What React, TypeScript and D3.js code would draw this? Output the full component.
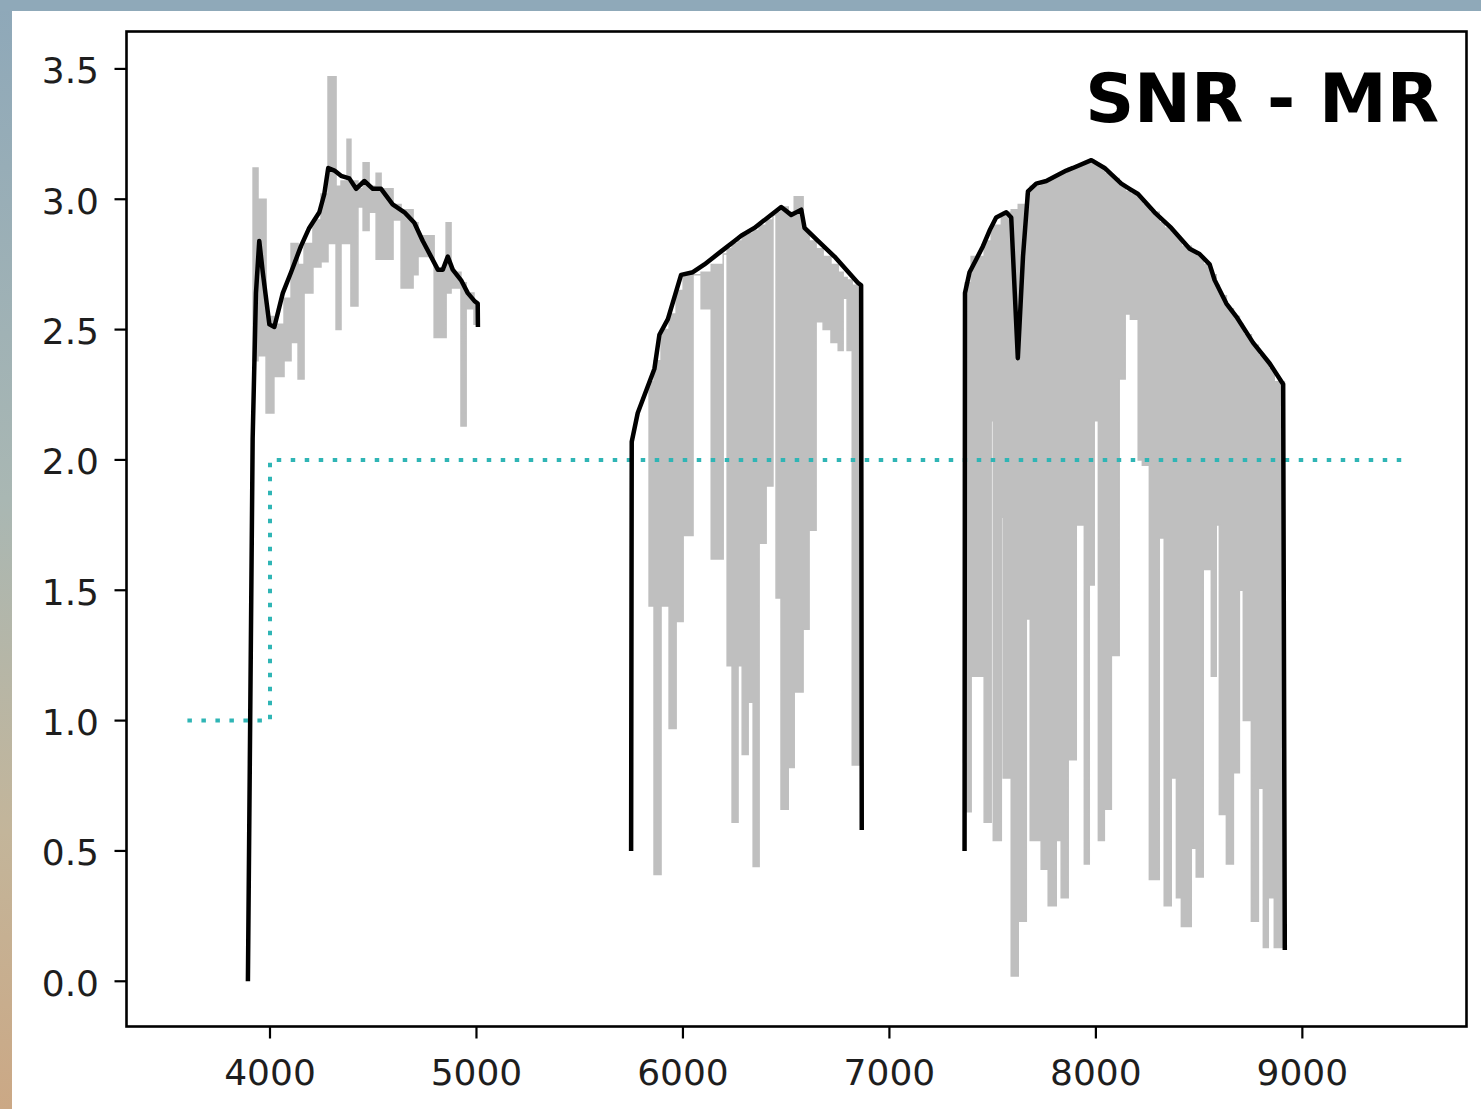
import React from "react";
import * as d3 from "d3";

// ---------- tick labels ----------
const xTickValues = [4000, 5000, 6000, 7000, 8000, 9000];
const yTickValues = [0, 0.5, 1.0, 1.5, 2.0, 2.5, 3.0, 3.5];
const titleText = "SNR - MR";

// ---------- requirement (cyan dotted step) ----------
const reqW = [3600, 4000, 4000, 9500];
const reqV = [1.0, 1.0, 2.0, 2.0];

// ---------- black (smoothed) SNR, three arms ----------
const blackBlueW = [3893, 3916, 3932, 3948, 3965, 3997, 4021, 4062, 4102, 4150, 4190, 4239, 4263, 4282, 4312, 4344, 4384, 4417, 4457, 4498, 4538, 4594, 4651, 4699, 4740, 4780, 4813, 4837, 4861, 4885, 4925, 4958, 4990, 5006, 5007];
const blackBlueV = [0.0, 2.08, 2.64, 2.84, 2.72, 2.52, 2.51, 2.64, 2.72, 2.82, 2.89, 2.95, 3.02, 3.12, 3.11, 3.09, 3.08, 3.04, 3.07, 3.04, 3.04, 2.98, 2.95, 2.91, 2.84, 2.78, 2.73, 2.73, 2.78, 2.73, 2.69, 2.64, 2.61, 2.60, 2.51];

const blackGreenW = [5749, 5752, 5781, 5862, 5886, 5927, 5991, 6048, 6104, 6185, 6250, 6282, 6346, 6411, 6476, 6524, 6573, 6589, 6654, 6734, 6847, 6863, 6866];
const blackGreenV = [0.50, 2.07, 2.18, 2.35, 2.48, 2.54, 2.71, 2.72, 2.75, 2.80, 2.84, 2.86, 2.89, 2.93, 2.97, 2.94, 2.96, 2.89, 2.84, 2.78, 2.68, 2.67, 0.58];

const blackRedW = [7364, 7366, 7388, 7421, 7453, 7485, 7517, 7566, 7590, 7622, 7647, 7671, 7711, 7760, 7808, 7857, 7889, 7978, 8042, 8123, 8163, 8204, 8284, 8365, 8454, 8502, 8551, 8575, 8632, 8680, 8761, 8842, 8907, 8915];
const blackRedV = [0.50, 2.64, 2.72, 2.77, 2.82, 2.88, 2.93, 2.95, 2.93, 2.39, 2.78, 3.03, 3.06, 3.07, 3.09, 3.11, 3.12, 3.15, 3.12, 3.06, 3.04, 3.02, 2.95, 2.89, 2.81, 2.79, 2.75, 2.69, 2.60, 2.55, 2.45, 2.37, 2.29, 0.12];

// ---------- grey (full resolution) SNR: per-bin top / bottom ----------
const greyBlueW = [3918, 3942, 3981, 4019, 4068, 4102, 4136, 4165, 4208, 4247, 4281, 4320, 4344, 4373, 4392, 4426, 4451, 4480, 4514, 4538, 4596, 4635, 4693, 4717, 4795, 4853, 4877, 4925, 4950, 4988];
const greyBlueEnd = 5008;
const greyBlueTop = [3.12, 3.00, 2.55, 2.52, 2.62, 2.83, 2.75, 2.83, 2.92, 3.02, 3.47, 3.05, 3.07, 3.23, 3.07, 3.04, 3.14, 3.05, 3.10, 3.04, 2.98, 2.96, 2.91, 2.86, 2.73, 2.91, 2.72, 2.68, 2.64, 2.60];
const greyBlueBot = [2.38, 2.40, 2.18, 2.32, 2.38, 2.45, 2.31, 2.64, 2.74, 2.76, 2.83, 2.50, 2.83, 2.83, 2.59, 2.97, 2.88, 2.95, 2.77, 2.77, 2.92, 2.66, 2.71, 2.78, 2.47, 2.64, 2.66, 2.13, 2.58, 2.52];

const greyGreenW = [5836, 5860, 5894, 5933, 5967, 6001, 6049, 6088, 6137, 6195, 6214, 6238, 6267, 6287, 6316, 6340, 6369, 6403, 6436, 6451, 6475, 6510, 6539, 6582, 6611, 6645, 6679, 6717, 6752, 6776, 6795, 6820, 6854];
const greyGreenEnd = 6863;
const greyGreenTop = [2.30, 2.38, 2.50, 2.56, 2.65, 2.71, 2.71, 2.72, 2.75, 2.79, 2.81, 2.83, 2.84, 2.86, 2.87, 2.88, 2.90, 2.92, 2.94, 2.95, 2.97, 2.95, 3.01, 2.88, 2.84, 2.81, 2.78, 2.75, 2.72, 2.70, 2.69, 2.67, 2.65];
const greyGreenBot = [1.44, 0.41, 1.44, 0.97, 1.38, 1.71, 2.71, 2.58, 1.62, 2.79, 1.21, 0.61, 1.21, 0.87, 1.07, 0.44, 1.68, 1.90, 2.94, 1.47, 0.66, 0.82, 1.11, 1.35, 1.73, 2.53, 2.50, 2.45, 2.42, 2.62, 2.42, 0.83, 2.65];

const greyRedW = [7367, 7396, 7459, 7493, 7503, 7542, 7551, 7590, 7624, 7663, 7682, 7735, 7769, 7808, 7832, 7866, 7905, 7944, 7968, 7992, 8012, 8041, 8075, 8113, 8142, 8167, 8205, 8225, 8259, 8307, 8331, 8365, 8390, 8414, 8462, 8486, 8520, 8559, 8583, 8598, 8632, 8666, 8695, 8714, 8753, 8787, 8811, 8835, 8864];
const greyRedEnd = 8913;
const greyRedTop = [2.68, 2.78, 2.84, 2.88, 2.90, 2.94, 2.95, 2.96, 2.98, 3.02, 3.05, 3.07, 3.08, 3.09, 3.10, 3.12, 3.13, 3.14, 3.15, 3.14, 3.12, 3.10, 3.08, 3.05, 3.03, 3.02, 3.00, 2.98, 2.95, 2.91, 2.89, 2.87, 2.85, 2.82, 2.80, 2.78, 2.75, 2.71, 2.67, 2.63, 2.58, 2.55, 2.52, 2.48, 2.44, 2.40, 2.38, 2.35, 2.30];
const greyRedBot = [0.65, 1.17, 0.61, 2.15, 0.54, 1.78, 0.78, 0.02, 0.23, 1.39, 0.54, 0.43, 0.29, 0.54, 0.32, 0.85, 1.75, 0.45, 1.52, 2.15, 0.54, 0.66, 1.25, 2.31, 2.56, 2.54, 2.00, 1.98, 0.39, 1.70, 0.29, 0.78, 0.32, 0.21, 0.51, 0.40, 1.58, 1.17, 1.75, 0.64, 0.45, 0.80, 1.50, 1.00, 0.23, 0.74, 0.13, 0.32, 0.13];

type Row = [number, number, number];

function greyRows(w: number[], top: number[], bot: number[], end: number): Row[] {
  const rows: Row[] = w.map((v, i) => [v, top[i], bot[i]] as Row);
  const last = rows[rows.length - 1];
  rows.push([end, last[1], last[2]]);
  return rows;
}

export default function App() {
  const W = 1481;
  const H = 1109;
  const plot = { left: 126.5, right: 1466.5, top: 31.5, bottom: 1026.5 };

  const allW = [...reqW, ...blackBlueW, ...blackGreenW, ...blackRedW, greyRedEnd];
  const allV = [...reqV, ...blackBlueV, ...blackGreenV, ...blackRedV, ...greyBlueTop, ...greyBlueBot, ...greyGreenTop, ...greyGreenBot, ...greyRedTop, ...greyRedBot];
  const [wMin, wMax] = d3.extent(allW) as [number, number];
  const [vMin, vMax] = d3.extent(allV) as [number, number];
  const wPad = (wMax - wMin) * 0.05;
  const vPad = (vMax - vMin) * 0.05;

  const x = d3.scaleLinear().domain([wMin - wPad, wMax + wPad]).range([plot.left, plot.right]);
  const y = d3.scaleLinear().domain([vMin - vPad, vMax + vPad]).range([plot.bottom, plot.top]);

  const line = d3.line<[number, number]>().x((d) => x(d[0])).y((d) => y(d[1]));
  const area = d3
    .area<Row>()
    .x((d) => x(d[0]))
    .y0((d) => y(d[2]))
    .y1((d) => y(d[1]))
    .curve(d3.curveStepAfter);

  const zip = (a: number[], b: number[]) => a.map((v, i) => [v, b[i]] as [number, number]);

  const greys = [
    greyRows(greyBlueW, greyBlueTop, greyBlueBot, greyBlueEnd),
    greyRows(greyGreenW, greyGreenTop, greyGreenBot, greyGreenEnd),
    greyRows(greyRedW, greyRedTop, greyRedBot, greyRedEnd),
  ];
  const blacks = [zip(blackBlueW, blackBlueV), zip(blackGreenW, blackGreenV), zip(blackRedW, blackRedV)];

  const font = "'DejaVu Sans', sans-serif";

  return (
    <svg width={W} height={H} style={{ position: "absolute", left: 0, top: 0 }} xmlns="http://www.w3.org/2000/svg">
      <defs>
        <linearGradient id="edge" x1="0" y1="0" x2="0" y2="1">
          <stop offset="0" stopColor="#8ea8b9" />
          <stop offset="0.45" stopColor="#a9b7b3" />
          <stop offset="0.75" stopColor="#c3b59a" />
          <stop offset="1" stopColor="#cba885" />
        </linearGradient>
        <clipPath id="plotclip">
          <rect x={plot.left} y={plot.top} width={plot.right - plot.left} height={plot.bottom - plot.top} />
        </clipPath>
      </defs>
      <rect x={0} y={0} width={W} height={H} fill="url(#edge)" />
      <rect x={0} y={0} width={W} height={11} fill="#8fa9b9" />
      <rect x={12} y={11} width={W - 12} height={H - 11} fill="#ffffff" />

      <g clipPath="url(#plotclip)">
        {greys.map((rows, i) => (
          <path key={"g" + i} d={area(rows) || ""} fill="#bfbfbf" stroke="#bfbfbf" strokeWidth={1.5} />
        ))}
        <path
          d={line(zip(reqW, reqV)) || ""}
          fill="none"
          stroke="#2fb5b5"
          strokeWidth={4}
          strokeDasharray="4.5 9.5"
        />
        {blacks.map((pts, i) => (
          <path key={"b" + i} d={line(pts) || ""} fill="none" stroke="#000" strokeWidth={4.5} strokeLinejoin="round" />
        ))}
      </g>

      {/* spines */}
      <rect
        x={plot.left}
        y={plot.top}
        width={plot.right - plot.left}
        height={plot.bottom - plot.top}
        fill="none"
        stroke="#000"
        strokeWidth={2.6}
      />

      {/* x ticks */}
      {xTickValues.map((t) => (
        <g key={"xt" + t}>
          <line x1={x(t)} x2={x(t)} y1={plot.bottom} y2={plot.bottom + 12} stroke="#000" strokeWidth={2.2} />
          <text x={x(t)} y={plot.bottom + 58} textAnchor="middle" fontFamily={font} fontSize={36} fill="#1e1e1e">
            {String(t)}
          </text>
        </g>
      ))}

      {/* y ticks */}
      {yTickValues.map((t) => (
        <g key={"yt" + t}>
          <line x1={plot.left - 12} x2={plot.left} y1={y(t)} y2={y(t)} stroke="#000" strokeWidth={2.2} />
          <text x={99} y={y(t) + 14.5} textAnchor="end" fontFamily={font} fontSize={36} fill="#1e1e1e">
            {t.toFixed(1)}
          </text>
        </g>
      ))}

      <text x={1439} y={122} textAnchor="end" fontFamily={font} fontSize={68} fontWeight="bold" fill="#000">
        {titleText}
      </text>
    </svg>
  );
}
